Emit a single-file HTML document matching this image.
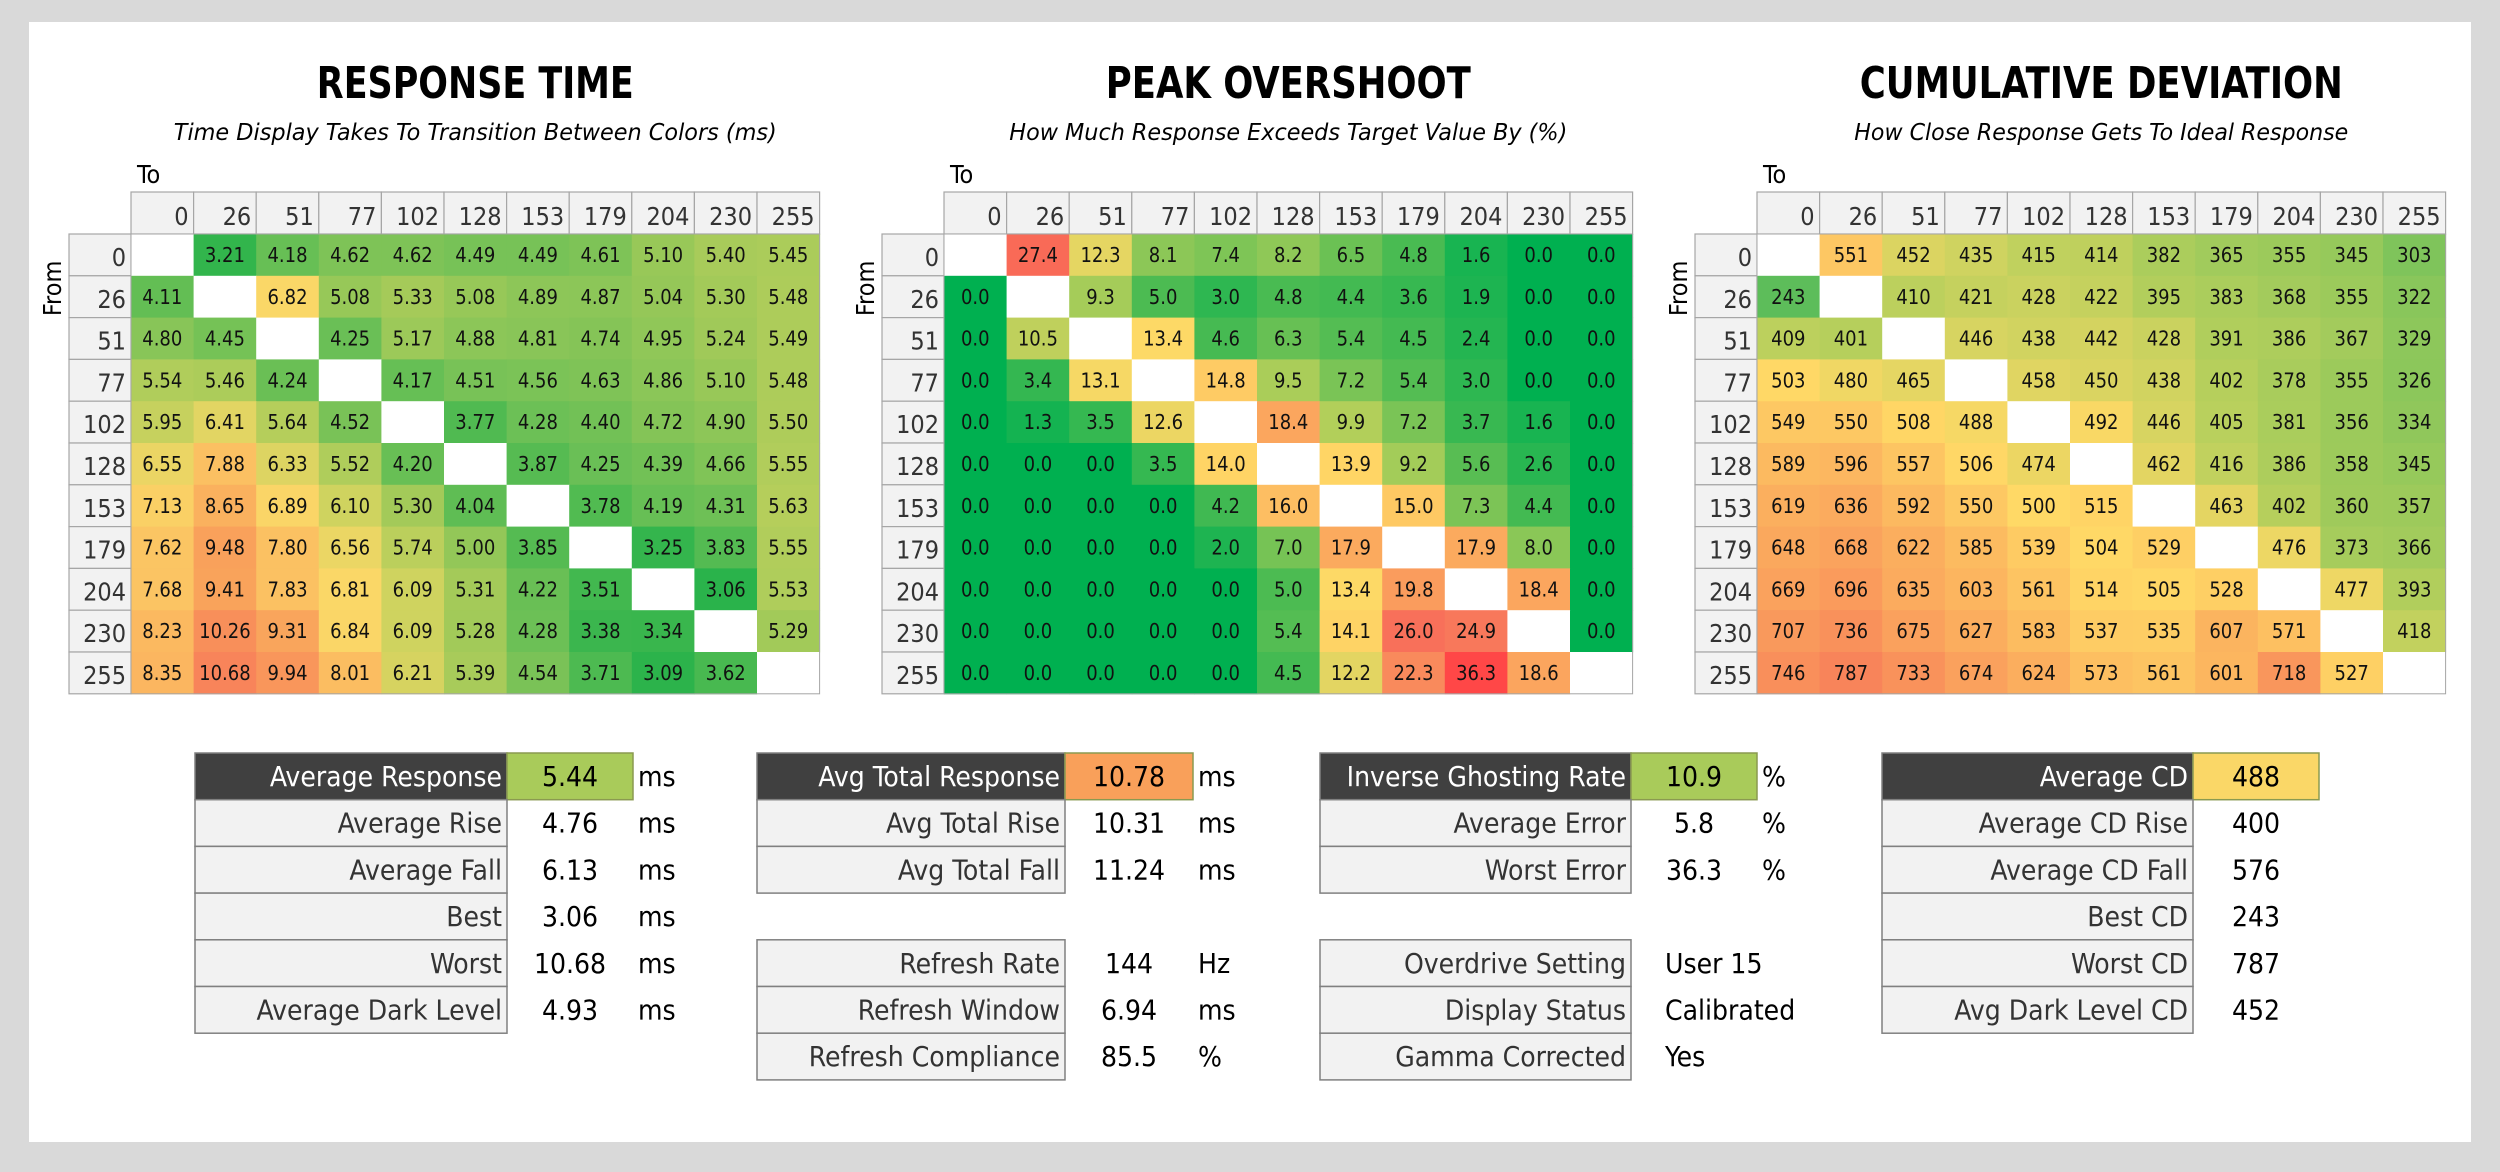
<!DOCTYPE html>
<html><head><meta charset="utf-8"><style>
html,body{margin:0;padding:0;background:#d9d9d9;}
svg{display:block;}
text{font-family:"DejaVu Sans","Liberation Sans",sans-serif;font-stretch:condensed;}
</style></head><body>
<svg id="root" width="2500" height="1172" viewBox="0 0 2500 1172" xmlns="http://www.w3.org/2000/svg">
<rect x="0" y="0" width="2500" height="1172" fill="#d9d9d9"/>
<rect x="29" y="22" width="2442" height="1120" fill="#ffffff"/>
</svg>
<script>
const levels = [0,26,51,77,102,128,153,179,204,230,255];
const rtValues = [
[null,3.21,4.18,4.62,4.62,4.49,4.49,4.61,5.10,5.40,5.45],
[4.11,null,6.82,5.08,5.33,5.08,4.89,4.87,5.04,5.30,5.48],
[4.80,4.45,null,4.25,5.17,4.88,4.81,4.74,4.95,5.24,5.49],
[5.54,5.46,4.24,null,4.17,4.51,4.56,4.63,4.86,5.10,5.48],
[5.95,6.41,5.64,4.52,null,3.77,4.28,4.40,4.72,4.90,5.50],
[6.55,7.88,6.33,5.52,4.20,null,3.87,4.25,4.39,4.66,5.55],
[7.13,8.65,6.89,6.10,5.30,4.04,null,3.78,4.19,4.31,5.63],
[7.62,9.48,7.80,6.56,5.74,5.00,3.85,null,3.25,3.83,5.55],
[7.68,9.41,7.83,6.81,6.09,5.31,4.22,3.51,null,3.06,5.53],
[8.23,10.26,9.31,6.84,6.09,5.28,4.28,3.38,3.34,null,5.29],
[8.35,10.68,9.94,8.01,6.21,5.39,4.54,3.71,3.09,3.62,null]];
const osValues = [
[null,27.4,12.3,8.1,7.4,8.2,6.5,4.8,1.6,0.0,0.0],
[0.0,null,9.3,5.0,3.0,4.8,4.4,3.6,1.9,0.0,0.0],
[0.0,10.5,null,13.4,4.6,6.3,5.4,4.5,2.4,0.0,0.0],
[0.0,3.4,13.1,null,14.8,9.5,7.2,5.4,3.0,0.0,0.0],
[0.0,1.3,3.5,12.6,null,18.4,9.9,7.2,3.7,1.6,0.0],
[0.0,0.0,0.0,3.5,14.0,null,13.9,9.2,5.6,2.6,0.0],
[0.0,0.0,0.0,0.0,4.2,16.0,null,15.0,7.3,4.4,0.0],
[0.0,0.0,0.0,0.0,2.0,7.0,17.9,null,17.9,8.0,0.0],
[0.0,0.0,0.0,0.0,0.0,5.0,13.4,19.8,null,18.4,0.0],
[0.0,0.0,0.0,0.0,0.0,5.4,14.1,26.0,24.9,null,0.0],
[0.0,0.0,0.0,0.0,0.0,4.5,12.2,22.3,36.3,18.6,null]];
const cdValues = [
[null,551,452,435,415,414,382,365,355,345,303],
[243,null,410,421,428,422,395,383,368,355,322],
[409,401,null,446,438,442,428,391,386,367,329],
[503,480,465,null,458,450,438,402,378,355,326],
[549,550,508,488,null,492,446,405,381,356,334],
[589,596,557,506,474,null,462,416,386,358,345],
[619,636,592,550,500,515,null,463,402,360,357],
[648,668,622,585,539,504,529,null,476,373,366],
[669,696,635,603,561,514,505,528,null,477,393],
[707,736,675,627,583,537,535,607,571,null,418],
[746,787,733,674,624,573,561,601,718,527,null]];
const rtStops = [[3.06,'#2ab34b'],[4.3,'#6dc056'],[5.3,'#a3ca59'],[6.0,'#c9d25e'],[6.8,'#fad767'],[8.0,'#fbbd61'],[9.5,'#f9a15b'],[10.7,'#f8845a']];
const osStops = [[0,'#00b050'],[5,'#4cbb52'],[10,'#b4cf5a'],[13.5,'#ffd966'],[18,'#fba95e'],[26,'#f8705a'],[36.3,'#ff4747']];
const cdStops = [[243,'#5dbd5a'],[400,'#b5cf5c'],[500,'#ffd966'],[620,'#fbaf5e'],[787,'#f8845a']];
const g1Labels = ['Average Response','Average Rise','Average Fall','Best','Worst','Average Dark Level'];
const g1Values = ['5.44','4.76','6.13','3.06','10.68','4.93'];
const g1Units = ['ms','ms','ms','ms','ms','ms'];
const g2Labels = ['Avg Total Response','Avg Total Rise','Avg Total Fall',null,'Refresh Rate','Refresh Window','Refresh Compliance'];
const g2Values = ['10.78','10.31','11.24',null,'144','6.94','85.5'];
const g2Units = ['ms','ms','ms',null,'Hz','ms','%'];
const g3Labels = ['Inverse Ghosting Rate','Average Error','Worst Error',null,'Overdrive Setting','Display Status','Gamma Corrected'];
const g3Values = ['10.9','5.8','36.3',null,'User 15','Calibrated','Yes'];
const g3Units = ['%','%','%',null,'','',''];
const g4Labels = ['Average CD','Average CD Rise','Average CD Fall','Best CD','Worst CD','Avg Dark Level CD'];
const g4Values = ['488','400','576','243','787','452'];
const g4Units = ['','','','','',''];

const NS='http://www.w3.org/2000/svg';
const root=document.getElementById('root');
function mk(tag,attrs,parent){const e=document.createElementNS(NS,tag);for(const k in attrs)e.setAttribute(k,attrs[k]);(parent||root).appendChild(e);return e;}
function hex(c){return [parseInt(c.slice(1,3),16),parseInt(c.slice(3,5),16),parseInt(c.slice(5,7),16)];}
function colorFor(v,stops){
  if(v<=stops[0][0])return stops[0][1];
  for(let i=1;i<stops.length;i++){if(v<=stops[i][0]){const a=stops[i-1],b=stops[i];const t=(v-a[0])/(b[0]-a[0]);const ca=hex(a[1]),cb=hex(b[1]);return 'rgb('+ca.map((x,j)=>Math.round(x+(cb[j]-x)*t)).join(',')+')';}}
  return stops[stops.length-1][1];}
function fit(t,max){const w=t.getComputedTextLength();if(w>max){t.setAttribute('textLength',max);t.setAttribute('lengthAdjust','spacingAndGlyphs');}}

const CW=62.6, RH=41.8, HY=192, DY=234;
function heatmap(id,x0,values,stops,fmt,title,tW,sub,sW){
  const g=mk('g',{});
  
  
  const cx0=x0+62, cx=cx0+CW*5.5;
  const tt=mk('text',{x:cx,y:98,'text-anchor':'middle','font-size':44,'font-weight':'bold',fill:'#000',textLength:tW,lengthAdjust:'spacingAndGlyphs'},g);
  tt.textContent=title;
  
  
  const st=mk('text',{x:cx,y:140,'text-anchor':'middle','font-size':23,'font-style':'italic',fill:'#000',textLength:sW,lengthAdjust:'spacingAndGlyphs'},g);
  st.textContent=sub;
  
  
  const to=mk('text',{x:cx0+6,y:183,'font-size':25,fill:'#000'},g);
  to.textContent='To';
  
  
  const fr=mk('text',{x:0,y:0,'font-size':25,fill:'#000','text-anchor':'middle',transform:'translate('+(x0-8)+','+(DY+RH*1.3)+') rotate(-90)'},g);
  fr.textContent='From';
  
  
  levels.forEach((lv,j)=>{
    const r=mk('rect',{x:cx0+j*CW,y:HY,width:CW,height:DY-HY,fill:'#f2f2f2',stroke:'#a6a6a6','stroke-width':1.2},g);
    
    
    const t=mk('text',{x:cx0+(j+1)*CW-5,y:HY+33,'text-anchor':'end','font-size':25,fill:'#333'},g);
    t.textContent=lv;fit(t,CW-6);
    
    
  });
  levels.forEach((lv,i)=>{
    const r=mk('rect',{x:x0,y:DY+i*RH,width:62,height:RH,fill:'#f2f2f2',stroke:'#a6a6a6','stroke-width':1.2},g);
    
    
    const t=mk('text',{x:x0+57,y:DY+i*RH+32,'text-anchor':'end','font-size':25,fill:'#333'},g);
    t.textContent=lv;fit(t,56);
    
    
  });
  values.forEach((row,i)=>row.forEach((v,j)=>{
    const r=mk('rect',{x:cx0+j*CW,y:DY+i*RH,width:CW+0.5,height:RH+0.5,fill:v===null?'#ffffff':colorFor(v,stops)},g);
    
    
    if(v!==null){
      const t=mk('text',{x:cx0+j*CW+CW/2,y:DY+i*RH+28,'text-anchor':'middle','font-size':20,fill:'#111'},g);
      t.textContent=fmt(v);fit(t,CW-8);
      
      
    }
  }));
  mk('rect',{x:cx0,y:DY,width:CW*11,height:RH*11,fill:'none',stroke:'#a6a6a6','stroke-width':1},g);
}
heatmap('response-time',69,rtValues,rtStops,v=>v.toFixed(2),'RESPONSE TIME',317,'Time Display Takes To Transition Between Colors (ms)',603);
heatmap('peak-overshoot',882,osValues,osStops,v=>v.toFixed(1),'PEAK OVERSHOOT',365,'How Much Response Exceeds Target Value By (%)',558);
heatmap('cumulative-deviation',1695,cdValues,cdStops,v=>String(v),'CUMULATIVE DEVIATION',483,'How Close Response Gets To Ideal Response',494);

const SY=753, SH=46.7;
function stats(id,x0,labelEnd,valEnd,labels,vals,units,hiColor){
  const g=mk('g',{});
  
  
  labels.forEach((lb,i)=>{
    if(lb===null)return;
    const y=SY+i*SH, first=i===0;
    const r=mk('rect',{x:x0,y:y,width:labelEnd-x0,height:SH,fill:first?'#404040':'#f2f2f2',stroke:'#808080','stroke-width':1.5},g);
    
    
    const t=mk('text',{x:labelEnd-5,y:y+33,'text-anchor':'end','font-size':28,fill:first?'#ffffff':'#333'},g);
    t.textContent=lb;fit(t,labelEnd-x0-10);
    
    
    if(first){
      const vr=mk('rect',{x:labelEnd,y:y,width:valEnd-labelEnd,height:SH,fill:hiColor,stroke:'#8a9a50','stroke-width':1.5},g);
      
      
    }
    const v=vals[i];
    const isNum=/^[0-9.]+$/.test(v);
    const vt=mk('text',{x:isNum?(labelEnd+valEnd)/2:labelEnd+34,y:y+33,'text-anchor':isNum?'middle':'start','font-size':28,fill:'#000'},g);
    vt.textContent=v;
    
    
    if(units[i]){
      const ut=mk('text',{x:valEnd+5,y:y+33,'font-size':28,fill:'#000'},g);
      ut.textContent=units[i];
      
      
    }
  });
}
stats('response',195,507,633,g1Labels,g1Values,g1Units,'#a9cb5a');
stats('total-response',757,1065,1193,g2Labels,g2Values,g2Units,'#f9a05a');
stats('ghosting',1320,1631,1757,g3Labels,g3Values,g3Units,'#a9cb5a');
stats('cumulative-deviation',1882,2193,2319,g4Labels,g4Values,g4Units,'#fad767');
</script>
</body></html>
